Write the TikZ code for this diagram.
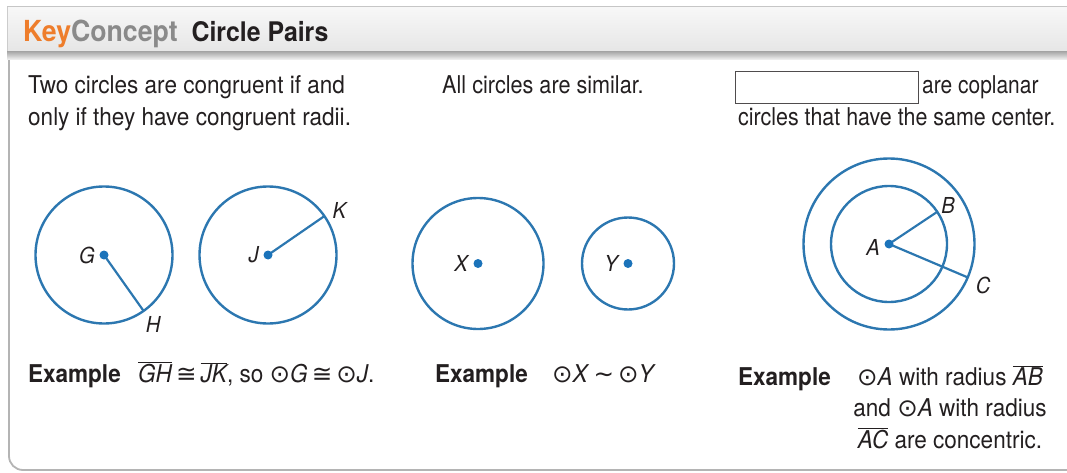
\documentclass[tikz,border=0pt]{standalone}
\usepackage{graphicx}
\usepackage{fontspec}
\setmainfont{TeX Gyre Heros}[FakeStretch=0.92]
\newfontfamily\symfont{DejaVu Sans}
\usepackage{xcolor}
\definecolor{KeyOrange}{HTML}{EE7D2B}
\definecolor{KeyGray}{HTML}{8A8A8A}
\definecolor{CircBlue}{HTML}{2C77B0}
\definecolor{DotBlue}{HTML}{1B73BA}
\definecolor{BodyText}{HTML}{231F20}
\definecolor{FrameGray}{HTML}{B4B4B4}
\usetikzlibrary{positioning, calc}

\newcommand{\cdt}{{\symfont\char"2299}}
\newcommand{\cng}{\,{\symfont\char"2245}\,}
\newcommand{\simr}{\,{\symfont\char"223C}\,}
\newcommand{\seg}[1]{$\overline{\mbox{\itshape #1}}$}

\begin{document}
\begin{tikzpicture}[x=1pt, y=1pt,
  body/.style={font=\fontsize{24.5}{32}\selectfont, text=BodyText, inner sep=0pt},
  exlbl/.style={body, font=\fontsize{24.5}{32}\selectfont\bfseries},
  ptlbl/.style={font=\fontsize{22}{26}\selectfont\itshape, text=BodyText, inner sep=1pt},
  circ/.style={CircBlue, line width=2.4pt},
  radius line/.style={CircBlue, line width=2.2pt}]
  \useasboundingbox (0,0) rectangle (1067,-473);

  %% frame and header bar
  \draw[FrameGray, line width=1.8pt, rounded corners=14pt]
    (9,-40) -- (9,-470) -- (1100,-470);
  \shade[top color=gray!6, bottom color=gray!20] (7,-7) rectangle (1100,-53);
  \draw[gray!45, line width=1pt] (7,-7) -- (1100,-7);
  \draw[gray!40, line width=1pt] (7,-7) -- (7,-53);
  \shade[top color=gray!65, bottom color=gray!8] (7,-52) rectangle (1100,-60);
  \node[anchor=base west, inner sep=0pt, font=\fontsize{29}{32}\selectfont\bfseries]
    (title) at (23,-42) {\textcolor{KeyOrange}{Key}\textcolor{KeyGray}{Concept}\hspace{14pt}%
      \textcolor{BodyText}{\fontsize{27}{32}\selectfont Circle Pairs}};

  %% statements
  \node[body, anchor=base west] (cong1) at (28,-94) {Two circles are congruent if and};
  \node[body, anchor=base west] (cong2) at (28,-126) {only if they have congruent radii.};
  \node[body, anchor=base west] (sim) at (442,-94) {\scalebox{0.96}[1]{All circles are similar.}};
  \node[draw=BodyText!80, line width=0.8pt, minimum width=183pt, minimum height=32pt,
    inner sep=0pt, anchor=north west] (blank) at (735,-71) {};
  \node[body, anchor=base west] (conc1) at (922,-94) {\scalebox{0.93}[1]{are coplanar}};
  \node[body, anchor=base west] (conc2) at (738,-126)
    {\scalebox{0.95}[1]{circles that have the same center.}};

  %% congruent circles
  \coordinate (G) at (104,-255);
  \coordinate (J) at (268,-255);
  \draw[circ] (G) circle (68.5);
  \draw[circ] (J) circle (68.5);
  \coordinate (H) at ($(G)+(-54.7:68.5)$);
  \coordinate (K) at ($(J)+(34.6:68.5)$);
  \draw[radius line] (G) -- (H);
  \draw[radius line] (J) -- (K);
  \node[ptlbl, left=8pt of G] (lblG) {G};
  \node[ptlbl, left=8pt of J] (lblJ) {J};
  \node[ptlbl, anchor=north west] (lblH) at ($(H)+(1,-4)$) {H};
  \node[ptlbl, anchor=south west] (lblK) at ($(K)+(7,-4)$) {K};

  %% similar circles
  \coordinate (X) at (478,-263.5);
  \coordinate (Y) at (628,-263.5);
  \draw[circ] (X) circle (65.5);
  \draw[circ] (Y) circle (46);
  \node[ptlbl, left=9pt of X] (lblX) {X};
  \node[ptlbl, left=9pt of Y] (lblY) {Y};

  %% concentric circles
  \coordinate (A) at (889,-244);
  \draw[circ] (A) circle (85.5);
  \draw[circ] (A) circle (58);
  \coordinate (B) at ($(A)+(33.7:58)$);
  \coordinate (C) at ($(A)+(-23:85.5)$);
  \draw[radius line] (A) -- (B);
  \draw[radius line] (A) -- (C);
  \node[ptlbl, left=8pt of A, yshift=-3pt] (lblA) {A};
  \node[ptlbl, anchor=south west] (lblB) at ($(B)+(3,-3)$) {B};
  \node[ptlbl, anchor=north west] (lblC) at ($(C)+(7,2)$) {C};

  %% centre dots
  \foreach \p in {G, J, X, Y, A}
    \fill[DotBlue] (\p) circle (4.5);

  %% examples
  \node[exlbl, anchor=base west] (ex1) at (28,-382) {Example};
  \node[body, anchor=base west] (ex1t) at (138,-382)
    {\seg{GH}\cng\seg{JK}, so \cdt\textit{G}\cng\cdt\textit{J}.};
  \node[exlbl, anchor=base west] (ex2) at (435,-382) {Example};
  \node[body, anchor=base west] (ex2t) at (552,-382)
    {\cdt\textit{X}\simr\cdt\textit{Y}};
  \node[exlbl, anchor=base west] (ex3) at (738,-385) {Example};
  \node[body, anchor=base] (ex3a) at (950,-385) {\cdt\textit{A} with radius \seg{AB}};
  \node[body, anchor=base] (ex3b) at (950,-416) {and \cdt\textit{A} with radius};
  \node[body, anchor=base] (ex3c) at (950,-448) {\seg{AC} are concentric.};
\end{tikzpicture}
\end{document}
